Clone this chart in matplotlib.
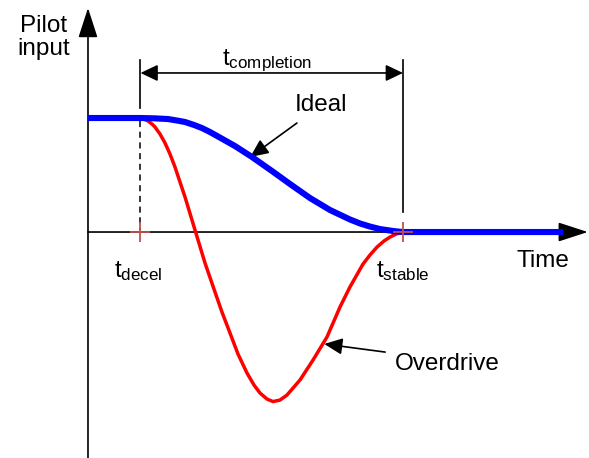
import matplotlib
matplotlib.use("Agg")
import matplotlib.pyplot as plt

plt.rcParams['font.family'] = ['Liberation Sans', 'DejaVu Sans']
plt.rcParams['mathtext.default'] = 'regular'

# ---- data (time units, normalised pilot input) ----
ideal_t = [0.0, 1.0, 1.276, 1.524, 1.695, 1.848, 2.019, 2.171, 2.324, 2.476, 2.80, 3.124, 3.505,
           3.848, 4.229, 4.61, 4.99, 5.181, 5.371, 5.562, 5.752, 5.867, 6.0, 9.05]
ideal_v = [1.0, 1.0, 0.997, 0.991, 0.978, 0.965, 0.939, 0.912, 0.877, 0.838, 0.754, 0.658, 0.535,
           0.421, 0.298, 0.193, 0.110, 0.075, 0.048, 0.026, 0.013, 0.006, 0.0, 0.0]

over_t = [1.0, 1.067, 1.143, 1.219, 1.276, 1.371, 1.467, 1.562, 1.657, 1.752, 1.848, 2.038, 2.229,
          2.419, 2.552, 2.705, 2.857, 3.029, 3.162, 3.276, 3.410, 3.524, 3.657, 3.790, 4.038, 4.286,
          4.552, 4.800, 4.990, 5.238, 5.371, 5.505, 5.638, 5.752, 5.867, 6.0]
over_v = [1.0, 0.991, 0.974, 0.947, 0.921, 0.860, 0.781, 0.684, 0.570, 0.439, 0.307, 0.018, -0.272,
          -0.526, -0.702, -0.886, -1.070, -1.237, -1.342, -1.412, -1.465, -1.487, -1.474, -1.430,
          -1.298, -1.123, -0.921, -0.658, -0.482, -0.281, -0.202, -0.132, -0.079, -0.044, -0.018, 0.0]

event_times = [1.0, 6.0]
event_labels = [r'$t_{decel}$', r'$t_{stable}$']
completion_label = r'$t_{completion}$'
y_label = 'Pilot\ninput'
x_label = 'Time'
series_labels = ['Ideal', 'Overdrive']

fig = plt.figure(figsize=(5.89, 4.58), dpi=100)
ax = fig.add_axes([0, 0, 1, 1])
ax.set_xlim(-1.676, 9.543)
ax.set_ylim(-1.982, 2.035)
ax.axis('off')

black = 'black'
axis_arrow = dict(arrowstyle='-|>,head_length=1.85,head_width=0.6', mutation_scale=10,
                  lw=1.2, color=black, shrinkA=0, shrinkB=0)
# axes
ax.annotate('', xy=(0, 1.965), xytext=(0, -1.982), arrowprops=axis_arrow, zorder=2)
ax.annotate('', xy=(9.52, 0), xytext=(0, 0), arrowprops=axis_arrow, zorder=2)

# curves
ax.plot(over_t, over_v, color='#ff0000', lw=2.5, solid_joinstyle='round', solid_capstyle='round', zorder=3)
ax.plot(ideal_t, ideal_v, color='#0000ff', lw=4.4, solid_joinstyle='round', solid_capstyle='butt', zorder=4)

# dashed line at t_decel
ax.plot([event_times[0], event_times[0]], [0.97, 0.02], color=black, lw=1.1,
        linestyle=(0, (4, 3)), zorder=2)

# completion bracket
ax.plot([event_times[0], event_times[0]], [1.51, 1.088], color=black, lw=1.2, zorder=2)
ax.plot([event_times[1], event_times[1]], [1.51, 0.175], color=black, lw=1.2, zorder=2)
ax.annotate('', xy=(event_times[1], 1.395), xytext=(event_times[0], 1.395),
            arrowprops=dict(arrowstyle='<|-|>,head_length=1.05,head_width=0.5', mutation_scale=10,
                            lw=1.2, color=black, shrinkA=0, shrinkB=0), zorder=2)
ax.text(2.55, 1.465, completion_label, fontsize=17.5, ha='left', va='baseline')

# event markers
ax.plot(event_times, [0, 0], linestyle='none', marker='+', markersize=14,
        markeredgewidth=1.3, color='#C0504D', zorder=5)

# event labels
ax.text(0.495, -0.395, event_labels[0], fontsize=17.5, ha='left', va='baseline')
ax.text(5.49, -0.395, event_labels[1], fontsize=17.5, ha='left', va='baseline')

# axis labels
ax.text(8.17, -0.307, x_label, fontsize=17.5, ha='left', va='baseline')
ax.text(-0.84, 1.90, y_label, fontsize=17.5, ha='center', va='top', linespacing=1.05)

# series annotations
ann_arrow = dict(arrowstyle='-|>,head_length=1.1,head_width=0.5', mutation_scale=10,
                 lw=1.2, color=black, shrinkA=0, shrinkB=0)
ax.annotate('', xy=(3.09, 0.658), xytext=(3.98, 0.956), arrowprops=ann_arrow)
ax.text(3.94, 1.061, series_labels[0], fontsize=17.5, ha='left', va='baseline')
ax.annotate('', xy=(4.50, -0.982), xytext=(5.66, -1.053), arrowprops=ann_arrow)
ax.text(5.85, -1.21, series_labels[1], fontsize=17.5, ha='left', va='baseline')

fig.savefig('out.png', dpi=100)
